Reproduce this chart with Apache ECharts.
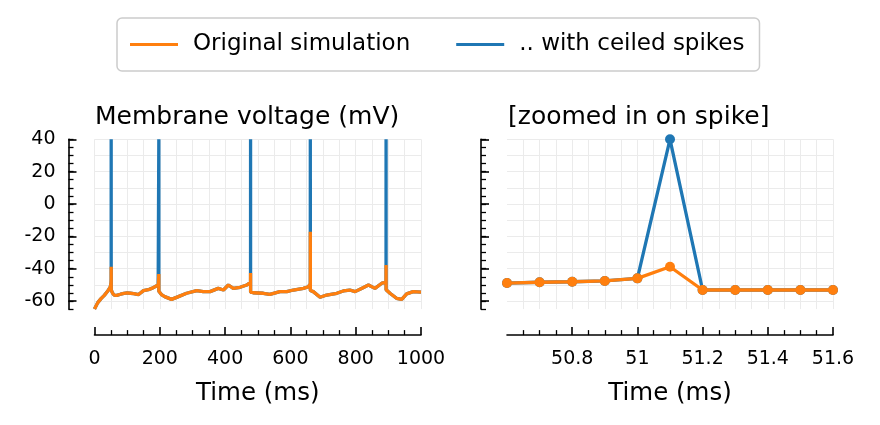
<!DOCTYPE html>
<html><head><meta charset="utf-8">
<script src="https://cdn.jsdelivr.net/npm/echarts@6/dist/echarts.min.js"></script>
<style>html,body{margin:0;padding:0;background:#fff}#c{width:880px;height:425px}</style>
</head><body><div id="c"></div><script>
// ---- data ----
const timeMs = [0, 10, 20, 30, 40, 48, 50.6, 50.7, 50.8, 50.9, 51.0, 51.1, 51.2, 51.3, 51.4, 51.5, 51.6, 55, 60, 68, 80, 90, 100, 110, 120, 135, 150, 165, 175, 185, 195, 196.9, 197, 197.1, 205, 215, 236, 257, 282, 313, 333, 354, 379, 395, 410, 425, 446, 466, 477.9, 478, 478.1, 486, 517, 537, 568, 589, 609, 640, 655, 660.9, 661, 661.1, 670, 691, 711, 742, 762, 782, 798, 818, 839, 859, 880, 892.9, 893, 893.1, 905, 925, 941, 956, 976, 1000];
const vOriginal = [-65, -61, -58.5, -56.5, -54, -51.5, -48.9, -48.4, -48.1, -47.6, -46.0, -38.8, -53.2, -53.2, -53.2, -53.2, -53.2, -55, -56.3, -56.5, -55.8, -55.3, -55.0, -55.2, -55.4, -56, -53.6, -53, -52.2, -51.2, -50.1, -49.5, -43.3, -54, -56, -57.3, -59, -57.3, -55.2, -53.6, -54.2, -54.2, -52.2, -53.2, -50.1, -52.2, -51.5, -50.1, -48.5, -42.7, -54.5, -54.9, -55.2, -55.9, -54.2, -54.2, -53.2, -52.2, -51.2, -49.5, -17.1, -53.5, -54.2, -57.7, -56.3, -55.2, -53.8, -53.2, -54.2, -52.2, -50.1, -52.2, -49, -48.5, -37.7, -53, -55.2, -58.3, -59, -55.6, -54.2, -54.5];
const vCeiled = [-65, -61, -58.5, -56.5, -54, -51.5, -48.9, -48.4, -48.1, -47.6, -46.0, 40, -53.2, -53.2, -53.2, -53.2, -53.2, -55, -56.3, -56.5, -55.8, -55.3, -55.0, -55.2, -55.4, -56, -53.6, -53, -52.2, -51.2, -50.1, -49.5, 40, -54, -56, -57.3, -59, -57.3, -55.2, -53.6, -54.2, -54.2, -52.2, -53.2, -50.1, -52.2, -51.5, -50.1, -48.5, 40, -54.5, -54.9, -55.2, -55.9, -54.2, -54.2, -53.2, -52.2, -51.2, -49.5, 40, -53.5, -54.2, -57.7, -56.3, -55.2, -53.8, -53.2, -54.2, -52.2, -50.1, -52.2, -49, -48.5, 40, -53, -55.2, -58.3, -59, -55.6, -54.2, -54.5];

const zoomTimeMs = [50.6, 50.7, 50.8, 50.9, 51.0, 51.1, 51.2, 51.3, 51.4, 51.5, 51.6];
const zoomOriginal = [-48.9, -48.4, -48.1, -47.6, -46.0, -38.8, -53.2, -53.2, -53.2, -53.2, -53.2];
const zoomCeiled = [-48.9, -48.4, -48.1, -47.6, -46.0, 40, -53.2, -53.2, -53.2, -53.2, -53.2];

const yTickLabels = [-60, -40, -20, 0, 20, 40];
const yGridValues = [-60, -50, -40, -30, -20, -10, 0, 10, 20, 30, 40];
const xTicksZoom = [50.8, 51, 51.2, 51.4, 51.6];

const seriesNames = ['Original simulation', '.. with ceiled spikes'];
const titles = ['Membrane voltage (mV)', '[zoomed in on spike]'];
const xName = 'Time (ms)';

// ---- styling ----
const FONT = 'DejaVu Sans';
const ORANGE = '#ff7f0e', BLUE = '#1f77b4';
const GRID_C = '#ebebeb';
const TICK_FS = 19;
const LW = 3.3;

const pair = (xs, ys) => xs.map((x, i) => [x, ys[i]]);
const plain = v => String(Math.round(v * 1000) / 1000);

function yAxesFor(g, showLabels) {
  const base = {gridIndex: g, type: 'value', min: -65, max: 40, interval: 5, position: 'left', offset: 26};
  return [
    Object.assign({}, base, {
      axisLine: {show: true, onZero: false, lineStyle: {color: '#000', width: 1.6}},
      axisTick: {show: true, inside: true, length: 8, customValues: yTickLabels, lineStyle: {color: '#000', width: 1.6}},
      axisLabel: {show: showLabels, customValues: yTickLabels, fontSize: TICK_FS, color: '#000', fontFamily: FONT, margin: 13, formatter: plain},
      splitLine: {show: false}
    }),
    Object.assign({}, base, {
      axisLine: {show: false, onZero: false},
      axisTick: {show: true, inside: true, length: 5, lineStyle: {color: '#000', width: 1.3}},
      axisLabel: {show: false},
      splitLine: {show: false}
    }),
    Object.assign({}, base, {
      axisLine: {show: false, onZero: false},
      axisTick: {show: false, customValues: yGridValues},
      axisLabel: {show: false},
      splitLine: {show: true, lineStyle: {color: GRID_C, width: 1}}
    })
  ];
}

const xCommon = {
  type: 'value', offset: 26, position: 'bottom',
  axisLine: {show: true, onZero: false, lineStyle: {color: '#000', width: 1.6}},
  axisTick: {show: true, inside: true, length: 8, lineStyle: {color: '#000', width: 1.6}},
  minorTick: {show: true, splitNumber: 4, length: 5, lineStyle: {color: '#000', width: 1.3}},
  splitLine: {show: true, lineStyle: {color: GRID_C, width: 1}},
  minorSplitLine: {show: true, lineStyle: {color: GRID_C, width: 1}},
  name: xName, nameLocation: 'middle', nameGap: 46,
  nameTextStyle: {fontSize: 24.5, color: '#000', fontFamily: FONT}
};

const option = {
  animation: false,
  backgroundColor: '#fff',
  textStyle: {fontFamily: FONT},
  title: [
    {text: titles[0], left: 95, top: 105, padding: 0, textStyle: {fontSize: 25, fontWeight: 'normal', color: '#000', fontFamily: FONT}},
    {text: titles[1], left: 508, top: 105, padding: 0, textStyle: {fontSize: 25, fontWeight: 'normal', color: '#000', fontFamily: FONT}}
  ],
  legend: {
    data: [{name: seriesNames[0]}, {name: seriesNames[1]}],
    icon: 'rect', itemWidth: 48, itemHeight: 3, itemGap: 46,
    left: 117, top: 18, padding: [15, 15, 15, 13],
    borderColor: '#cccccc', borderWidth: 1.5, borderRadius: 5,
    textStyle: {fontSize: 23, color: '#000', fontFamily: FONT, padding: [0, 0, 0, 10]}
  },
  grid: [
    {left: 94.5, top: 139.3, width: 326.5, height: 169.8},
    {left: 507, top: 139.3, width: 326, height: 169.8}
  ],
  xAxis: [
    Object.assign({}, xCommon, {gridIndex: 0, min: 0, max: 1000, interval: 200,
      axisLabel: {fontSize: TICK_FS, color: '#000', fontFamily: FONT, margin: 14, formatter: plain}}),
    Object.assign({}, xCommon, {gridIndex: 1, min: 50.6, max: 51.6, interval: 0.2,
      axisTick: Object.assign({}, xCommon.axisTick, {customValues: xTicksZoom}),
      axisLabel: {fontSize: TICK_FS, color: '#000', fontFamily: FONT, margin: 14, customValues: xTicksZoom, formatter: plain}})
  ],
  yAxis: [].concat(yAxesFor(0, true), yAxesFor(1, false)),
  series: [
    {name: seriesNames[1], type: 'line', xAxisIndex: 0, yAxisIndex: 0, data: pair(timeMs, vCeiled),
      showSymbol: false, symbol: 'none', lineStyle: {color: BLUE, width: LW}, itemStyle: {color: BLUE}, z: 3},
    {name: seriesNames[0], type: 'line', xAxisIndex: 0, yAxisIndex: 0, data: pair(timeMs, vOriginal),
      showSymbol: false, symbol: 'none', lineStyle: {color: ORANGE, width: LW}, itemStyle: {color: ORANGE}, z: 4},
    {name: seriesNames[1], type: 'line', xAxisIndex: 1, yAxisIndex: 3, data: pair(zoomTimeMs, zoomCeiled),
      symbol: 'circle', symbolSize: 10, lineStyle: {color: BLUE, width: LW}, itemStyle: {color: BLUE}, z: 3},
    {name: seriesNames[0], type: 'line', xAxisIndex: 1, yAxisIndex: 3, data: pair(zoomTimeMs, zoomOriginal),
      symbol: 'circle', symbolSize: 10, lineStyle: {color: ORANGE, width: LW}, itemStyle: {color: ORANGE}, z: 4}
  ]
};
const chart = echarts.init(document.getElementById('c'), null, {renderer: 'canvas'});
chart.setOption(option);
</script></body></html>
